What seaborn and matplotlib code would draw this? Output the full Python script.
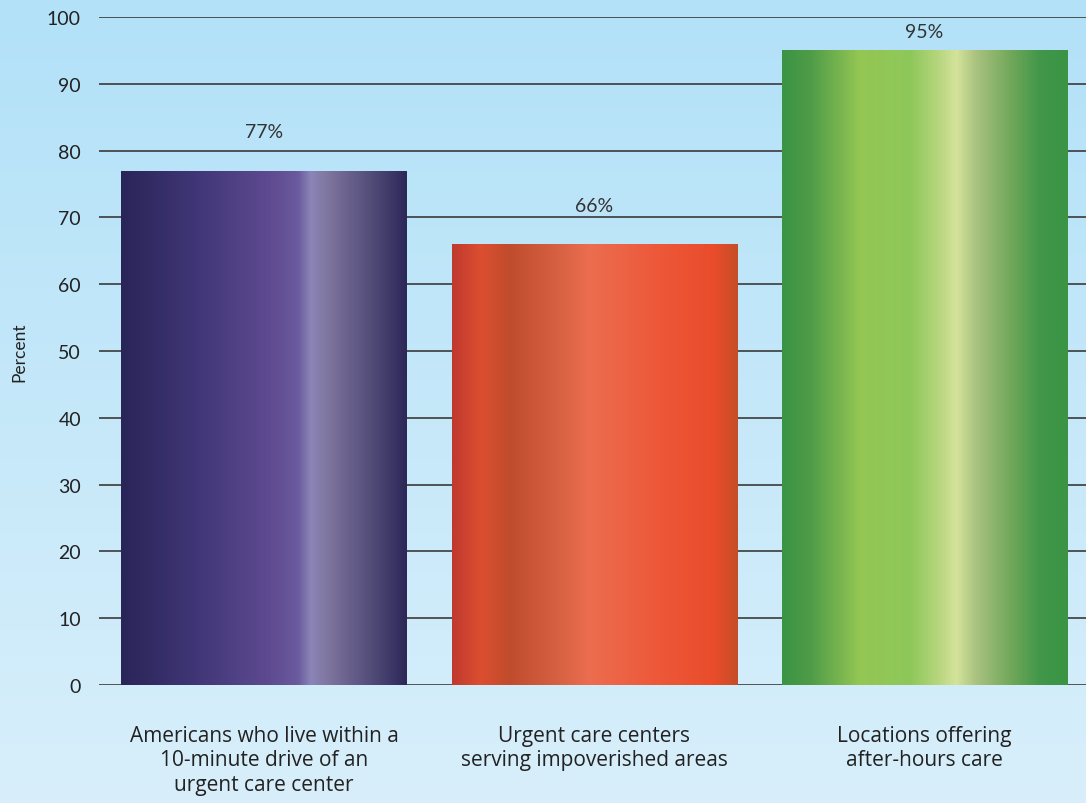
import numpy as np
import pandas as pd
import matplotlib
matplotlib.use("Agg")
import matplotlib.pyplot as plt
from matplotlib.colors import LinearSegmentedColormap
import seaborn as sns

categories = ["Americans who live within a\n10-minute drive of an\nurgent care center",
              "Urgent care centers\nserving impoverished areas",
              "Locations offering\nafter-hours care"]
values = [77, 66, 95]
value_labels = ["77%", "66%", "95%"]
yticks = [0, 10, 20, 30, 40, 50, 60, 70, 80, 90, 100]
ylabel = "Percent"

base_colors = ["#4a3d80", "#e0553a", "#7fbb50"]
gradients = [
    [(0.0, "#2a2558"), (0.25, "#3f3575"), (0.52, "#5e4a90"), (0.62, "#6a5a9e"),
     (0.665, "#8c86b8"), (0.72, "#7f779f"), (0.85, "#5a5380"), (1.0, "#2c2858")],
    [(0.0, "#c0392f"), (0.1, "#dc4e30"), (0.2, "#bf4c2c"), (0.35, "#d35f40"),
     (0.48, "#ec6d50"), (0.7, "#ed5a3b"), (0.92, "#e94c2a"), (1.0, "#c54e27")],
    [(0.0, "#3a9444"), (0.1, "#4f9c48"), (0.27, "#94c653"), (0.45, "#8ec85a"),
     (0.55, "#b8d67f"), (0.61, "#d4e39a"), (0.68, "#a9c280"), (0.8, "#72a85a"),
     (0.9, "#42974a"), (1.0, "#3a9444")],
]

df = pd.DataFrame({"cat": categories, "val": values})

sns.set_theme(style="white")
plt.rcParams["font.family"] = ["Lato", "DejaVu Sans"]

fig = plt.figure(figsize=(10.86, 8.04), dpi=100)

# background gradient
bg = fig.add_axes([0, 0, 1, 1], zorder=-10)
bg_cmap = LinearSegmentedColormap.from_list("bg", ["#b2e1f8", "#d8effb"])
bg.imshow(np.linspace(0, 1, 256).reshape(-1, 1), aspect="auto", cmap=bg_cmap,
          extent=[0, 1, 0, 1])
bg.axis("off")

ax = fig.add_axes([99 / 1086, 118 / 804, 1 - 99 / 1086, (686 - 18) / 804])
ax.set_facecolor("none")

sns.barplot(data=df, x="cat", y="val", hue="cat", palette=base_colors,
            legend=False, width=0.864, ax=ax, zorder=3)

ax.set_xlim(-0.5, 2.49)
ax.set_ylim(0, 100)
ax.set_yticks(yticks)
ax.set_yticklabels([str(t) for t in yticks], fontsize=14, color="#222222")
ax.yaxis.grid(True, color="#3a3a3a", linewidth=1.2, zorder=0)
ax.set_axisbelow(True)
ax.tick_params(axis="y", length=0, pad=13)
ax.tick_params(axis="x", length=0, pad=29)
for s in ax.spines.values():
    s.set_visible(False)

for lbl in ax.get_xticklabels():
    lbl.set_family(["Open Sans", "DejaVu Sans"])
    lbl.set_fontsize(15)
    lbl.set_color("#222222")
    lbl.set_linespacing(1.2)
    lbl.set_verticalalignment("top")

ax.set_xlabel("")
ax.set_ylabel(ylabel, fontsize=12.5, color="#222222")
ax.yaxis.set_label_coords(-0.073, 0.5)

# gradient fills
for patch, grad in zip(ax.patches, gradients):
    x0, y0 = patch.get_x(), patch.get_y()
    w, h = patch.get_width(), patch.get_height()
    cmap = LinearSegmentedColormap.from_list("g", grad)
    im = ax.imshow(np.linspace(0, 1, 512).reshape(1, -1), cmap=cmap, aspect="auto",
                   extent=[x0, x0 + w, y0, y0 + h], zorder=4, interpolation="bilinear")
    im.set_clip_path(patch)
    patch.set_edgecolor("none")

for i, (v, t) in enumerate(zip(values, value_labels)):
    ax.text(i, min(v + 5.8, 97.8), t, ha="center", va="center", fontsize=14,
            color="#333333", zorder=5)

ax.set_xlim(-0.5, 2.49)
ax.set_ylim(0, 100)

fig.savefig("out.png", dpi=100)
